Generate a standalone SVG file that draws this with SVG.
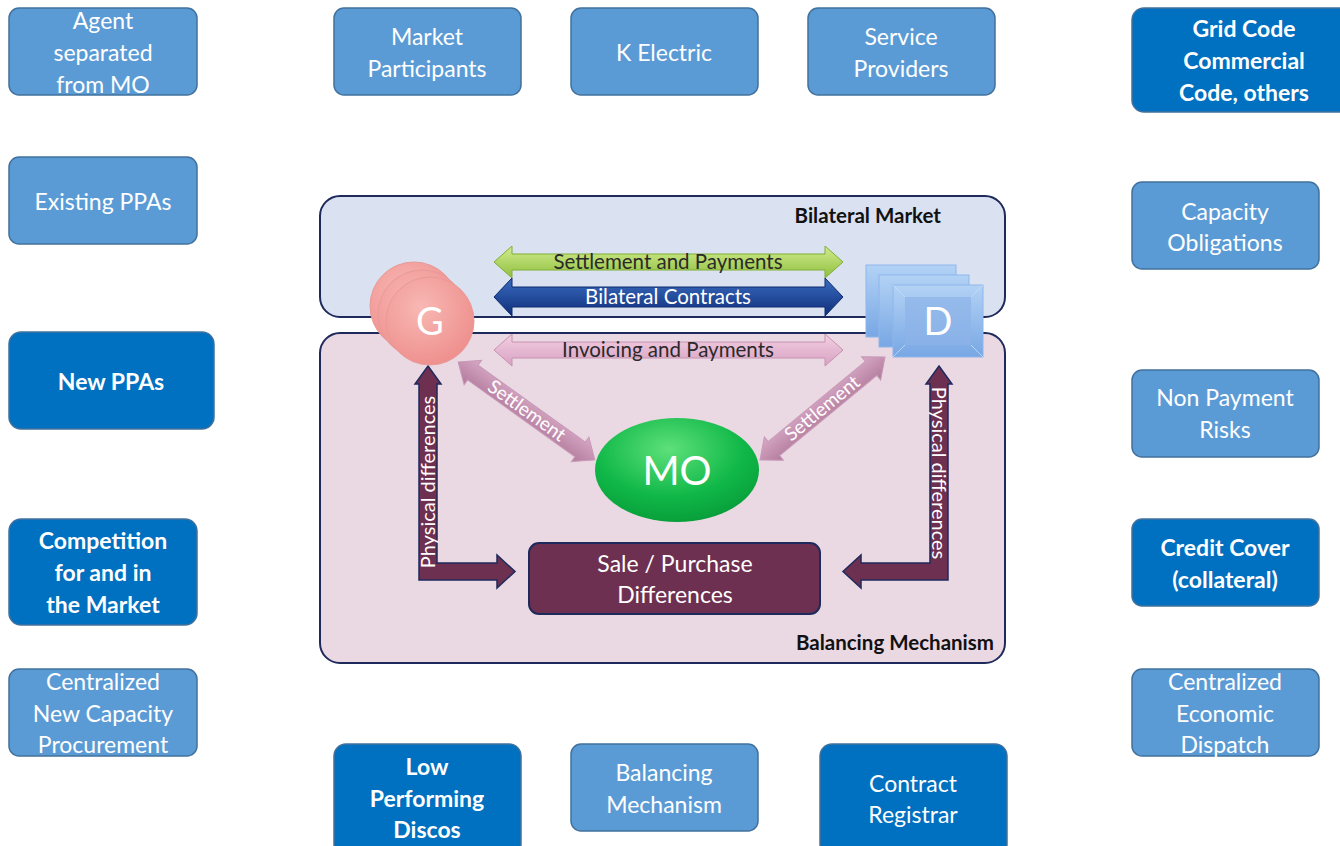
<svg xmlns="http://www.w3.org/2000/svg" width="1340" height="846" viewBox="0 0 1340 846">
<defs>
<style>
text{font-family:Lato,"Open Sans","Liberation Sans",sans-serif;}
.lb{fill:#5B9BD5;stroke:#41719C;stroke-width:1.5;}
.db{fill:#0070C0;stroke:#41719C;stroke-width:1.5;}
.bt{fill:#fff;font-size:23px;text-anchor:middle;}
.bb{fill:#fff;font-size:23px;font-weight:bold;text-anchor:middle;}
.panel{stroke:#1F2A5C;stroke-width:2;}
.plabel{fill:#111;font-size:20.5px;font-weight:bold;text-anchor:end;}
.atext{font-size:20.5px;text-anchor:middle;}
.phys{fill:#6E3050;stroke:#1F2A5C;stroke-width:1.5;}
.ptext{fill:#fff;font-size:20px;text-anchor:middle;}
.stext{fill:#fff;font-size:19px;text-anchor:middle;}
</style>
<linearGradient id="gGreen" x1="0" y1="0" x2="0" y2="1"><stop offset="0" stop-color="#D3EC8F"/><stop offset="1" stop-color="#8FBF3E"/></linearGradient>
<linearGradient id="gBlue" x1="0" y1="0" x2="0" y2="1"><stop offset="0" stop-color="#3A6CC0"/><stop offset="1" stop-color="#0F2E7A"/></linearGradient>
<linearGradient id="gPink" x1="0" y1="0" x2="0" y2="1"><stop offset="0" stop-color="#F4CFE2"/><stop offset="1" stop-color="#D7A2C2"/></linearGradient>
<linearGradient id="gSet" x1="0" y1="0" x2="0" y2="1"><stop offset="0" stop-color="#D8A9C6"/><stop offset="1" stop-color="#B27A9C"/></linearGradient>
<radialGradient id="gG" cx="0.4" cy="0.35" r="0.7"><stop offset="0" stop-color="#F8B8B4"/><stop offset="1" stop-color="#EE8E8C"/></radialGradient>
<radialGradient id="gMO" cx="0.45" cy="0.3" r="0.75"><stop offset="0" stop-color="#5EE07A"/><stop offset="0.6" stop-color="#10B848"/><stop offset="1" stop-color="#079A38"/></radialGradient>
<linearGradient id="gD" x1="0" y1="0" x2="0" y2="1"><stop offset="0" stop-color="#B3D2F5"/><stop offset="1" stop-color="#78A7E4"/></linearGradient>
</defs>
<rect width="1340" height="846" fill="#fff"/>

<g id="bilateral-market">
<rect class="panel" x="320" y="196" width="685" height="121" rx="20" fill="#DAE2F1"/>
<text class="plabel" x="941" y="223">Bilateral Market</text>
</g>
<g id="balancing-panel">
<rect class="panel" x="320" y="333" width="685" height="330" rx="20" fill="#EAD8E3"/>
<text class="plabel" x="994" y="650">Balancing Mechanism</text>
</g>

<g id="connectors">
<g id="settlement-payments">
<polygon points="494,262 512,246 512,254 825,254 825,246 843,262 825,278 825,270 512,270 512,278" fill="url(#gGreen)" stroke="#7FAE35" stroke-width="1"/>
<text class="atext" x="668" y="269" fill="#2A2A2A">Settlement and Payments</text>
</g>
<g id="bilateral-contracts">
<polygon points="494,297 512,278 512,287 825,287 825,278 843,297 825,316 825,307 512,307 512,316" fill="url(#gBlue)" stroke="#0E2A6E" stroke-width="1"/>
<text class="atext" x="668" y="304" fill="#fff">Bilateral Contracts</text>
</g>
<g id="invoicing-payments">
<polygon points="494,350 512,334 512,342 825,342 825,334 843,350 825,366 825,358 512,358 512,366" fill="url(#gPink)" stroke="#C792B2" stroke-width="1"/>
<text class="atext" x="668" y="357" fill="#2A2A2A">Invoicing and Payments</text>
</g>
<g id="settlement-left" transform="translate(526.5,411) rotate(35.6)">
<polygon points="-84,0 -66,-15 -66,-9 66,-9 66,-15 84,0 66,15 66,9 -66,9 -66,15" fill="url(#gSet)" stroke="#C79AB6" stroke-width="1"/>
<text class="stext" x="0" y="6">Settlement</text>
</g>
<g id="settlement-right" transform="translate(822.5,408.5) rotate(-39.5)">
<polygon points="-81,0 -63,-15 -63,-9 63,-9 63,-15 81,0 63,15 63,9 -63,9 -63,15" fill="url(#gSet)" stroke="#C79AB6" stroke-width="1"/>
<text class="stext" x="0" y="6">Settlement</text>
</g>
<g id="physical-left">
<path class="phys" d="M428,366 L441,384 L437,384 L437,563 L497,563 L497,555 L515,571.5 L497,588 L497,580 L419,580 L419,384 L415,384 Z"/>
<text class="ptext" transform="translate(435,482) rotate(-90)">Physical differences</text>
</g>
<g id="physical-right">
<path class="phys" d="M939,366 L952,384 L948,384 L948,580 L861,580 L861,588 L843,571.5 L861,555 L861,563 L930,563 L930,384 L926,384 Z"/>
<text class="ptext" transform="translate(932,473) rotate(90)">Physical differences</text>
</g>
</g>

<g id="node-G">
<circle cx="414" cy="306" r="44" fill="url(#gG)" stroke="#E89A98" stroke-width="1"/>
<circle cx="422" cy="314" r="44" fill="url(#gG)" stroke="#E89A98" stroke-width="1"/>
<circle cx="430" cy="321" r="44" fill="url(#gG)" stroke="#E89A98" stroke-width="1"/>
<text x="430" y="335" font-size="38" fill="#fff" text-anchor="middle">G</text>
</g>

<g id="node-D">
<rect x="866" y="265" width="90" height="72" fill="url(#gD)" stroke="#8DB6EA" stroke-width="1"/>
<rect x="879" y="275" width="90" height="72" fill="url(#gD)" stroke="#8DB6EA" stroke-width="1"/>
<rect x="893" y="285" width="90" height="72" fill="url(#gD)" stroke="#8DB6EA" stroke-width="1"/>
<path d="M893,285 L905,297 M983,285 L971,297 M893,357 L905,345 M983,357 L971,345" stroke="#C6DDF7" stroke-width="1" opacity="0.8"/>
<rect x="905" y="297" width="66" height="48" fill="#8DB4E8" opacity="0.7"/>
<text x="938" y="335" font-size="38" fill="#fff" text-anchor="middle">D</text>
</g>

<g id="node-MO">
<ellipse cx="677" cy="470" rx="82" ry="52" fill="url(#gMO)"/>
<text x="677" y="485" font-size="40" fill="#fff" text-anchor="middle">MO</text>
</g>

<g id="node-sale-purchase">
<rect x="529" y="543" width="291" height="71" rx="10" fill="#6E3050" stroke="#1F2A5C" stroke-width="2"/>
<text x="675" y="572" font-size="23" fill="#fff" text-anchor="middle">Sale / Purchase</text>
<text x="675" y="603" font-size="23" fill="#fff" text-anchor="middle">Differences</text>
</g>

<g id="agent-separated">
<rect class="lb" x="9" y="8" width="188" height="87" rx="10"/>
<text class="bt" x="103" y="29">Agent</text>
<text class="bt" x="103" y="61">separated</text>
<text class="bt" x="103" y="93">from MO</text>
</g>
<g id="market-participants">
<rect class="lb" x="334" y="8" width="187" height="87" rx="10"/>
<text class="bt" x="427" y="45">Market</text>
<text class="bt" x="427" y="77">Participants</text>
</g>
<g id="k-electric">
<rect class="lb" x="571" y="8" width="187" height="87" rx="10"/>
<text class="bt" x="664" y="61">K Electric</text>
</g>
<g id="service-providers">
<rect class="lb" x="808" y="8" width="187" height="87" rx="10"/>
<text class="bt" x="901" y="45">Service</text>
<text class="bt" x="901" y="77">Providers</text>
</g>
<g id="grid-code">
<rect class="db" x="1132" y="8" width="224" height="104" rx="12"/>
<text class="bb" x="1244" y="37">Grid Code</text>
<text class="bb" x="1244" y="69">Commercial</text>
<text class="bb" x="1244" y="101">Code, others</text>
</g>
<g id="existing-ppas">
<rect class="lb" x="9" y="157" width="188" height="87" rx="10"/>
<text class="bt" x="103" y="210">Existing PPAs</text>
</g>
<g id="new-ppas">
<rect class="db" x="9" y="332" width="205" height="97" rx="12"/>
<text class="bb" x="111" y="390">New PPAs</text>
</g>
<g id="competition">
<rect class="db" x="9" y="519" width="188" height="106" rx="12"/>
<text class="bb" x="103" y="549">Competition</text>
<text class="bb" x="103" y="581">for and in</text>
<text class="bb" x="103" y="613">the Market</text>
</g>
<g id="centralized-procurement">
<rect class="lb" x="9" y="669" width="188" height="87" rx="10"/>
<text class="bt" x="103" y="690">Centralized</text>
<text class="bt" x="103" y="722">New Capacity</text>
<text class="bt" x="103" y="753">Procurement</text>
</g>
<g id="capacity-obligations">
<rect class="lb" x="1132" y="182" width="187" height="87" rx="10"/>
<text class="bt" x="1225" y="220">Capacity</text>
<text class="bt" x="1225" y="251">Obligations</text>
</g>
<g id="non-payment-risks">
<rect class="lb" x="1132" y="370" width="187" height="87" rx="10"/>
<text class="bt" x="1225" y="406">Non Payment</text>
<text class="bt" x="1225" y="438">Risks</text>
</g>
<g id="credit-cover">
<rect class="db" x="1132" y="519" width="187" height="87" rx="10"/>
<text class="bb" x="1225" y="556">Credit Cover</text>
<text class="bb" x="1225" y="588">(collateral)</text>
</g>
<g id="centralized-dispatch">
<rect class="lb" x="1132" y="669" width="187" height="87" rx="10"/>
<text class="bt" x="1225" y="690">Centralized</text>
<text class="bt" x="1225" y="722">Economic</text>
<text class="bt" x="1225" y="753">Dispatch</text>
</g>
<g id="low-performing-discos">
<rect class="db" x="334" y="744" width="187" height="112" rx="12"/>
<text class="bb" x="427" y="775">Low</text>
<text class="bb" x="427" y="807">Performing</text>
<text class="bb" x="427" y="838">Discos</text>
</g>
<g id="balancing-mechanism-box">
<rect class="lb" x="571" y="744" width="187" height="87" rx="10"/>
<text class="bt" x="664" y="781">Balancing</text>
<text class="bt" x="664" y="813">Mechanism</text>
</g>
<g id="contract-registrar">
<rect class="db" x="820" y="744" width="187" height="112" rx="12"/>
<text class="bt" x="913" y="792">Contract</text>
<text class="bt" x="913" y="823">Registrar</text>
</g>
</svg>
